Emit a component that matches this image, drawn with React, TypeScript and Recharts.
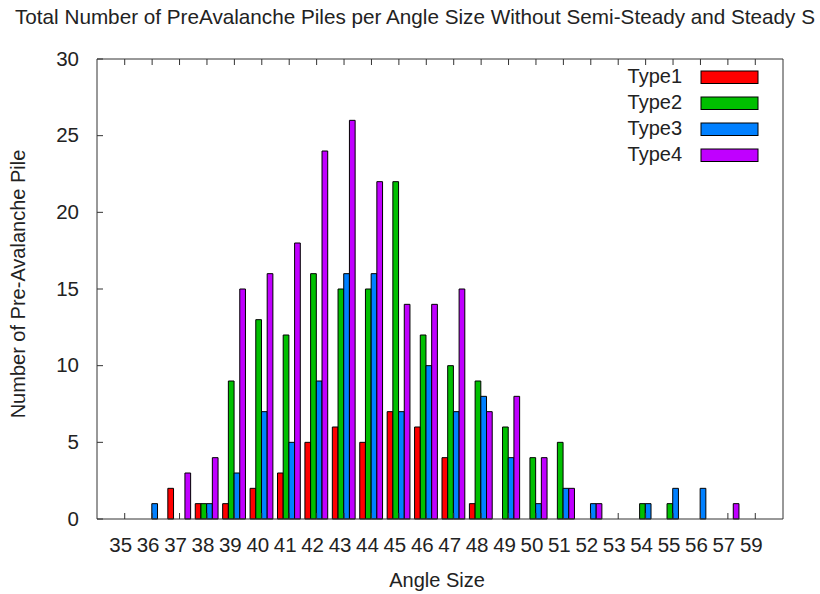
import React from "react";
import { BarChart, Bar, XAxis, YAxis } from "recharts";

const angles = ["35","36","37","38","39","40","41","42","43","44","45","46","47","48","49","50","51","52","53","54","55","56","57","59"];
const type1 = [0,0,2,1,1,2,3,5,6,5,7,6,4,1,0,0,0,0,0,0,0,0,0,0];
const type2 = [0,0,0,1,9,13,12,16,15,15,22,12,10,9,6,4,5,0,0,1,1,0,0,0];
const type3 = [0,1,0,1,3,7,5,9,16,16,7,10,7,8,4,1,2,1,0,1,2,2,0,0];
const type4 = [0,0,3,4,15,16,18,24,26,22,14,14,15,7,8,4,2,1,0,0,0,0,1,0];
const yTicks = [0,5,10,15,20,25,30];

const seriesNames = ["Type1","Type2","Type3","Type4"];
const seriesColors = ["#ff0000","#00c000","#0080ff","#c000ff"];

const data = angles.map((a, i) => ({
  angle: a,
  Type1: type1[i],
  Type2: type2[i],
  Type3: type3[i],
  Type4: type4[i],
}));

const FONT = "'Liberation Sans', Arial, Helvetica, sans-serif";
const FRAME = "#333333";
const TICK = 6;

const BottomTick = (p: any) => (
  <g>
    <line x1={p.x} y1={p.y} x2={p.x} y2={p.y - TICK} stroke={FRAME} strokeWidth={1} />
    <text x={p.x - 4} y={p.y + 33} textAnchor="middle" fontSize={20.5} fontFamily={FONT} fill="#222">
      {p.payload.value}
    </text>
  </g>
);
const TopTick = (p: any) => (
  <line x1={p.x} y1={p.y} x2={p.x} y2={p.y + TICK} stroke={FRAME} strokeWidth={1} />
);
const LeftTick = (p: any) => (
  <g>
    <line x1={p.x} y1={p.y} x2={p.x + TICK} y2={p.y} stroke={FRAME} strokeWidth={1} />
    <text x={p.x - 18} y={p.y + 6.5} textAnchor="end" fontSize={20.5} fontFamily={FONT} fill="#222">
      {p.payload.value}
    </text>
  </g>
);
const RightTick = (p: any) => (
  <line x1={p.x} y1={p.y} x2={p.x - TICK} y2={p.y} stroke={FRAME} strokeWidth={1} />
);

export default function App() {
  return (
    <div style={{ position: "absolute", left: 0, top: 0, width: 820, height: 594, background: "#fff" }}>
      <BarChart
        width={820}
        height={594}
        data={data}
        margin={{ top: 29, right: 0, bottom: 0, left: 0 }}
        barGap={0}
        barSize={5.7}
      >
        <XAxis
          dataKey="angle"
          interval={0}
          padding={{ left: 14, right: 14 }}
          height={75}
          tickSize={0}
          tickMargin={0}
          tickLine={false}
          axisLine={{ stroke: FRAME, strokeWidth: 1 }}
          tick={(p: any) => <BottomTick {...p} />}
        />
        <XAxis
          xAxisId="top"
          orientation="top"
          dataKey="angle"
          interval={0}
          padding={{ left: 14, right: 14 }}
          height={30}
          tickSize={0}
          tickMargin={0}
          tickLine={false}
          axisLine={{ stroke: FRAME, strokeWidth: 1 }}
          tick={(p: any) => <TopTick {...p} />}
        />
        <YAxis
          type="number"
          domain={[0, 30]}
          ticks={yTicks}
          interval={0}
          width={97}
          tickSize={0}
          tickMargin={0}
          tickLine={false}
          axisLine={{ stroke: FRAME, strokeWidth: 1 }}
          tick={(p: any) => <LeftTick {...p} />}
        />
        <YAxis
          yAxisId="right"
          orientation="right"
          type="number"
          domain={[0, 30]}
          ticks={yTicks}
          interval={0}
          width={37}
          tickSize={0}
          tickMargin={0}
          tickLine={false}
          axisLine={{ stroke: FRAME, strokeWidth: 1 }}
          tick={(p: any) => <RightTick {...p} />}
        />
        {seriesNames.map((name, i) => (
          <Bar
            key={name}
            dataKey={name}
            fill={seriesColors[i]}
            stroke="#000"
            strokeWidth={1}
            isAnimationActive={false}
          />
        ))}
      </BarChart>
      <svg
        width={820}
        height={594}
        style={{ position: "absolute", left: 0, top: 0, pointerEvents: "none" }}
      >
        <text x={15} y={24} fontSize={20.7} fontFamily={FONT} fill="#222">
          Total Number of PreAvalanche Piles per Angle Size Without Semi-Steady and Steady S
        </text>
        <text x={437} y={587} textAnchor="middle" fontSize={20} fontFamily={FONT} fill="#222">
          Angle Size
        </text>
        <text
          x={25}
          y={284}
          textAnchor="middle"
          fontSize={20}
          fontFamily={FONT}
          fill="#222"
          transform="rotate(-90, 25, 284)"
        >
          Number of Pre-Avalanche Pile
        </text>
        {seriesNames.map((name, i) => (
          <g key={name}>
            <text x={682} y={82.7 + i * 26} textAnchor="end" fontSize={20} fontFamily={FONT} fill="#222">
              {name}
            </text>
            <rect x={701} y={71 + i * 26} width={57} height={12.5} fill={seriesColors[i]} stroke="#000" strokeWidth={1} />
          </g>
        ))}
      </svg>
    </div>
  );
}
